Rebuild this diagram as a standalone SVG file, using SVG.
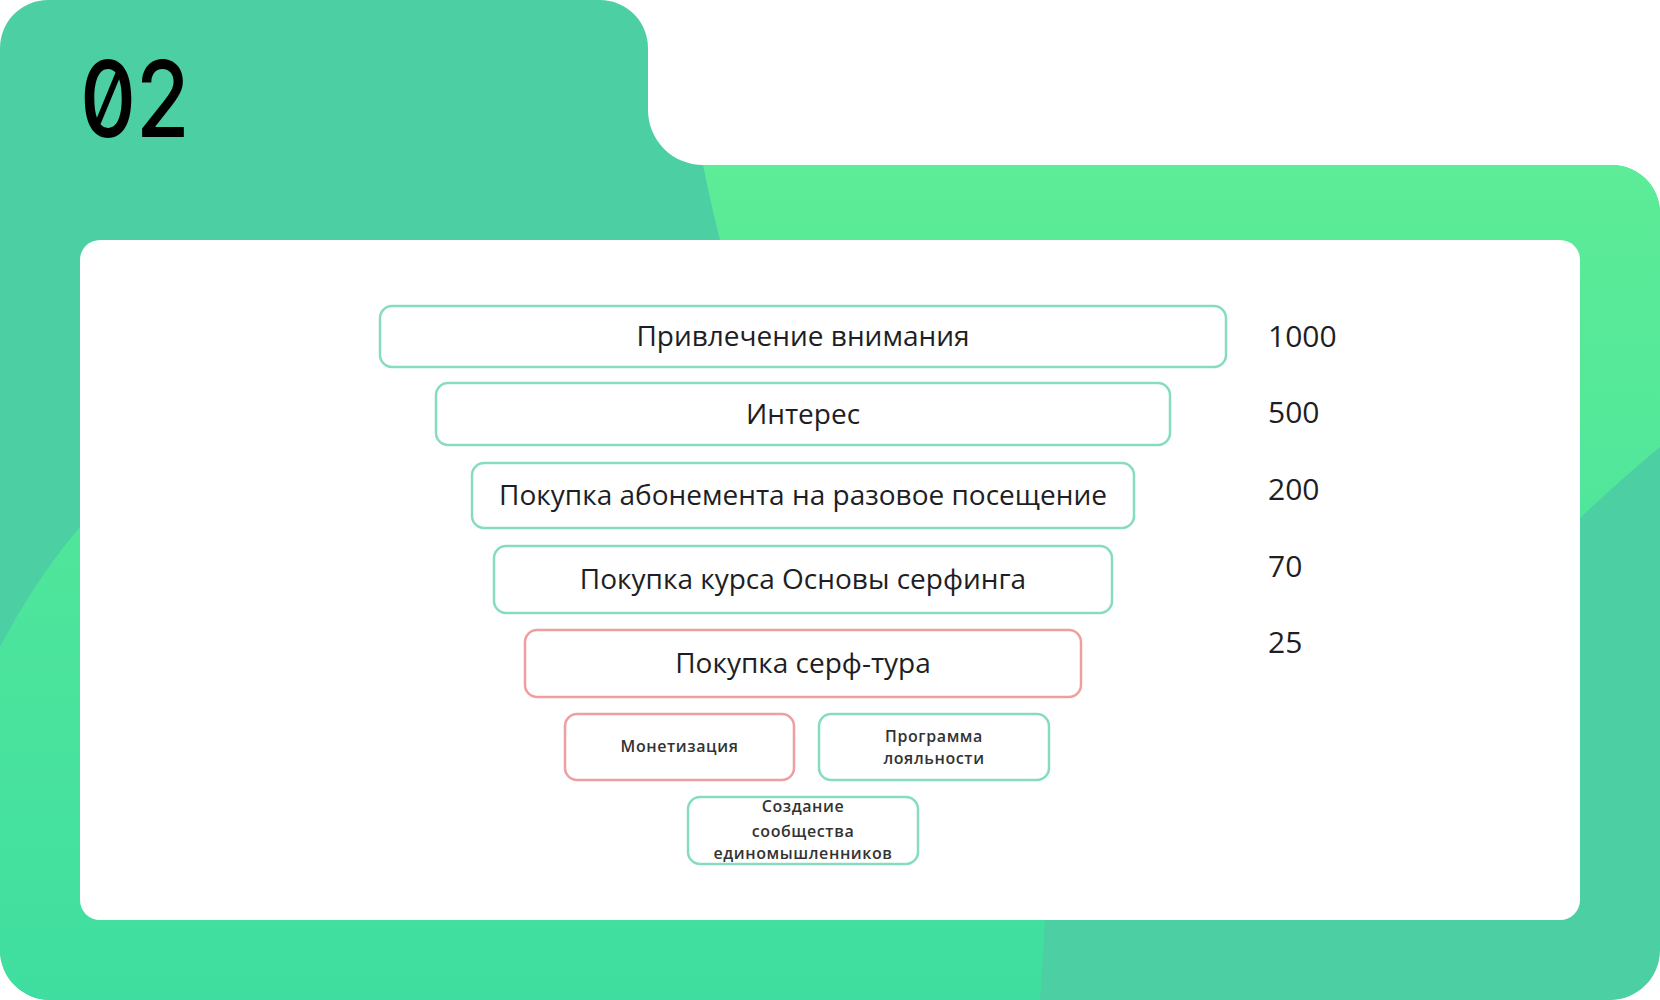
<svg xmlns="http://www.w3.org/2000/svg" width="1660" height="1000" viewBox="0 0 1660 1000">
<defs>
<clipPath id="sil">
<path d="M48,0 H600 A48,48 0 0 1 648,48 V110 A55,55 0 0 0 703,165 H1612 A48,48 0 0 1 1660,213 V950 A50,50 0 0 1 1610,1000 H50 A50,50 0 0 1 0,950 V48 A48,48 0 0 1 48,0 Z"/>
</clipPath>
<linearGradient id="lg" x1="0" y1="165" x2="0" y2="1000" gradientUnits="userSpaceOnUse">
<stop offset="0" stop-color="#5DEC97"/>
<stop offset="1" stop-color="#3FDEA0"/>
</linearGradient>
<style>
.box{fill:#fff;stroke-width:2.5}
.g{stroke:#86DDBE}
.r{stroke:#EE9FA0}
.t{font-family:"Open Sans","Liberation Sans",sans-serif;font-size:28px;fill:#1e1e24;text-anchor:middle}
.s{font-family:"Open Sans","Liberation Sans",sans-serif;font-size:16px;font-weight:600;letter-spacing:0.6px;fill:#333;text-anchor:middle}
.n{font-family:"Open Sans","Liberation Sans",sans-serif;font-size:30px;fill:#1e1e24}
</style>
</defs>
<g id="background">
<path d="M48,0 H600 A48,48 0 0 1 648,48 V110 A55,55 0 0 0 703,165 H1612 A48,48 0 0 1 1660,213 V950 A50,50 0 0 1 1610,1000 H50 A50,50 0 0 1 0,950 V48 A48,48 0 0 1 48,0 Z" fill="#4CD0A3"/>
<path clip-path="url(#sil)" d="M703,165 L1660,165 L1660,447 Q1620,480 1580,518 L1045,920 L1040,1000 L0,1000 L0,647 Q35,580 80,527 L720,240 Q710,200 703,165 Z" fill="url(#lg)"/>
<rect x="80" y="240" width="1500" height="680" rx="20" fill="#fff"/>
</g>
<g id="logo">
<text transform="translate(80,137) scale(0.82,1)" x="0" y="0" font-family="Inter,'Liberation Sans',sans-serif" font-size="106" font-weight="500" fill="#000" style="font-feature-settings:'zero' 1;font-variant-numeric:slashed-zero">02</text>
</g>
<g id="connectors"></g>
<g id="n1"><rect class="box g" x="380" y="306" width="846" height="61" rx="12"/><text class="t" x="803" y="346">Привлечение внимания</text></g>
<g id="n2"><rect class="box g" x="436" y="383" width="734" height="62" rx="12"/><text class="t" x="803" y="424">Интерес</text></g>
<g id="n3"><rect class="box g" x="472" y="463" width="662" height="65" rx="12"/><text class="t" x="803" y="505">Покупка абонемента на разовое посещение</text></g>
<g id="n4"><rect class="box g" x="494" y="546" width="618" height="67" rx="12"/><text class="t" x="803" y="589">Покупка курса Основы серфинга</text></g>
<g id="n5"><rect class="box r" x="525" y="630" width="556" height="67" rx="12"/><text class="t" x="803" y="673">Покупка серф-тура</text></g>
<g id="n6"><rect class="box r" x="565" y="714" width="229" height="66" rx="12"/><text class="s" x="679.5" y="752">Монетизация</text></g>
<g id="n7"><rect class="box g" x="819" y="714" width="230" height="66" rx="12"/><text class="s" x="934" y="742">Программа</text><text class="s" x="934" y="764">лояльности</text></g>
<g id="n8"><rect class="box g" x="688" y="797" width="230" height="67" rx="12"/><text class="s" x="803" y="812">Создание</text><text class="s" x="803" y="837">сообщества</text><text class="s" x="803" y="859">единомышленников</text></g>
<g id="numbers">
<text class="n" x="1268" y="347">1000</text>
<text class="n" x="1268" y="423">500</text>
<text class="n" x="1268" y="500">200</text>
<text class="n" x="1268" y="577">70</text>
<text class="n" x="1268" y="653">25</text>
</g>
</svg>
